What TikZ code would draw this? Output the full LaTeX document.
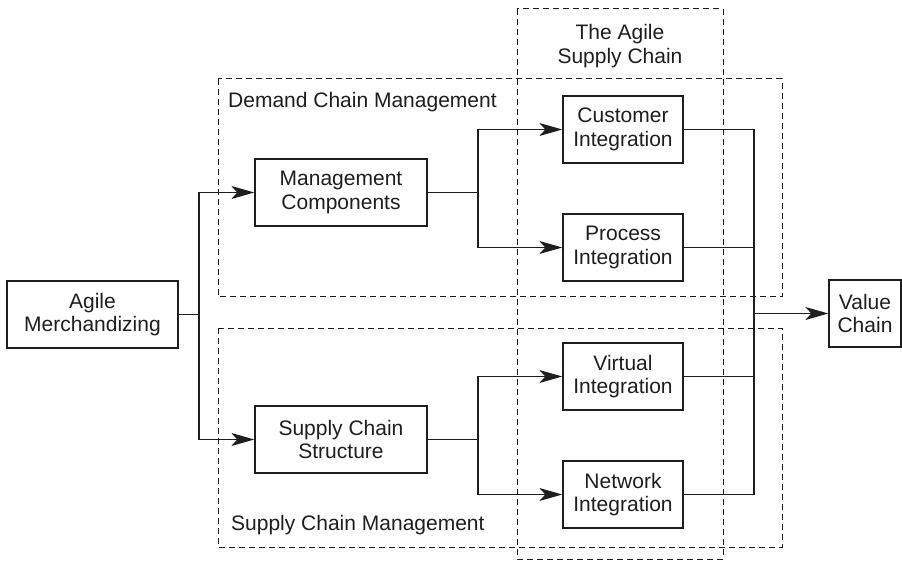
\documentclass[tikz,border=0pt]{standalone}
\usepackage{fontspec}
\setmainfont{Liberation Sans}
\usetikzlibrary{arrows.meta}
\definecolor{ink}{HTML}{1E1E1E}
\tikzset{
  box/.style={draw=ink, line width=1.3pt, rectangle, minimum height=67pt, inner sep=0pt, align=center, text=ink, font=\fontsize{21}{23.5}\selectfont},
  link/.style={draw=ink, line width=1.3pt},
  arr/.style={link, -{Stealth[length=23pt, width=13pt, inset=6pt]}},
  region/.style={draw=ink, line width=1pt, dash pattern=on 6pt off 4pt},
  lbl/.style={text=ink, inner sep=0pt, font=\fontsize{21}{23.5}\selectfont}
}
\begin{document}
\begin{tikzpicture}[x=1pt, y=-1pt]
\useasboundingbox (0,0) rectangle (902,561);
% dashed regions
\draw[region] (517,9) rectangle (723,559);
\draw[region] (218,79) rectangle (782,297);
\draw[region] (218,328) rectangle (782,547);
\node[lbl, align=center] (asc) at (620,46) {The Agile\\Supply Chain};
\node[lbl, anchor=base west] (dcm) at (228,108) {Demand Chain Management};
\node[lbl, anchor=base west] (scm) at (231,530) {Supply Chain Management};
% boxes
\node[box, minimum width=171pt] (agile) at (92.5,314.5) {Agile\\Merchandizing};
\node[box, minimum width=172pt] (mc) at (341,192.5) {Management\\Components};
\node[box, minimum width=172pt] (scs) at (341,439.5) {Supply Chain\\Structure};
\node[box, minimum width=120pt] (ci) at (623,129.5) {Customer\\Integration};
\node[box, minimum width=120pt] (pi) at (623,247.5) {Process\\Integration};
\node[box, minimum width=120pt] (vi) at (623,376.5) {Virtual\\Integration};
\node[box, minimum width=120pt] (ni) at (623,494.5) {Network\\Integration};
\node[box, minimum width=72pt] (vc) at (865,313.5) {Value\\Chain};
% split points
\coordinate (sa) at (199,314.5);
\coordinate (sb) at (478,192.5);
\coordinate (sc) at (478,439.5);
\coordinate (cv) at (754,313.5);
% connectors
\draw[link] (agile.east) -- (sa);
\draw[arr] (sa) |- (mc.west);
\draw[arr] (sa) |- (scs.west);
\draw[link] (mc.east) -- (sb);
\draw[arr] (sb) |- (ci.west);
\draw[arr] (sb) |- (pi.west);
\draw[link] (scs.east) -- (sc);
\draw[arr] (sc) |- (vi.west);
\draw[arr] (sc) |- (ni.west);
\draw[link] (ci.east) -| (cv);
\draw[link] (pi.east) -| (cv);
\draw[link] (vi.east) -| (cv);
\draw[link] (ni.east) -| (cv);
\draw[arr] (cv) -- (vc.west);
\end{tikzpicture}
\end{document}
